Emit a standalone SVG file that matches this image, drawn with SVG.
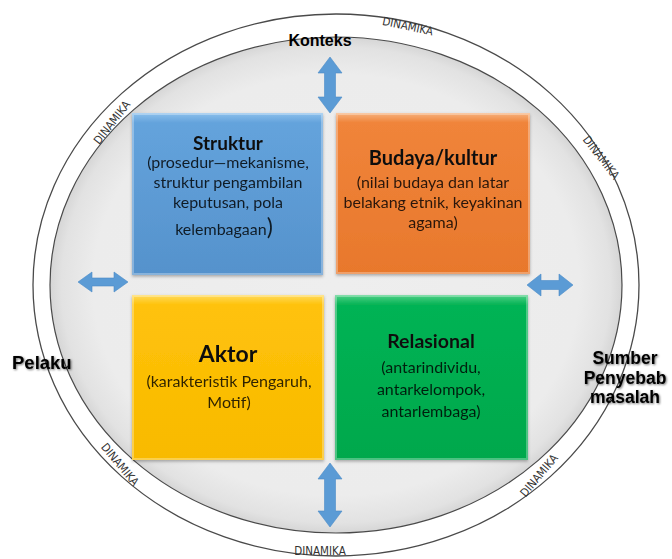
<svg xmlns="http://www.w3.org/2000/svg" width="672" height="559" viewBox="0 0 672 559">
<defs>
<style>
.ring{fill:none;stroke:#4a4a4a;stroke-width:1.3}
.dyn{font-family:"Liberation Sans Narrow","DejaVu Sans Condensed","Liberation Sans",sans-serif;font-size:11.5px;fill:#333}
.lbl{font-family:"Liberation Sans",Arial,sans-serif;font-weight:bold;fill:#000}
.ttl{font-family:Lato,"Open Sans",sans-serif;font-weight:bold;fill:#111;text-anchor:middle}
.sub{font-family:Lato,"Open Sans",sans-serif;font-size:16px;fill:#000;fill-opacity:0.82;text-anchor:middle}
.arr{fill:#5b9bd5;stroke:#4a8bc8;stroke-width:0.6}
.bev{fill:none;stroke:#fff;stroke-opacity:0.3;stroke-width:2}
</style>
<radialGradient id="disc" cx="50%" cy="50%" r="50%">
<stop offset="0" stop-color="#eeeeee"/>
<stop offset="0.85" stop-color="#ececec"/>
<stop offset="0.96" stop-color="#e2e2e2"/>
<stop offset="1" stop-color="#d6d6d6"/>
</radialGradient>
<linearGradient id="gBlue" x1="0" y1="0" x2="0" y2="1">
<stop offset="0" stop-color="#8cc0ec"/><stop offset="0.06" stop-color="#64a3dc"/><stop offset="1" stop-color="#5592cc"/>
</linearGradient>
<linearGradient id="gOrange" x1="0" y1="0" x2="0" y2="1">
<stop offset="0" stop-color="#f6b27e"/><stop offset="0.06" stop-color="#f0843a"/><stop offset="1" stop-color="#e8782c"/>
</linearGradient>
<linearGradient id="gGold" x1="0" y1="0" x2="0" y2="1">
<stop offset="0" stop-color="#ffda5c"/><stop offset="0.06" stop-color="#ffc20a"/><stop offset="1" stop-color="#f8ba00"/>
</linearGradient>
<linearGradient id="gGreen" x1="0" y1="0" x2="0" y2="1">
<stop offset="0" stop-color="#4fd087"/><stop offset="0.06" stop-color="#06b354"/><stop offset="1" stop-color="#00a84c"/>
</linearGradient>
<filter id="sh" x="-10%" y="-10%" width="120%" height="120%">
<feDropShadow dx="0" dy="1.5" stdDeviation="1.5" flood-color="#000" flood-opacity="0.3"/>
</filter>
<filter id="tsh" x="-10%" y="-20%" width="120%" height="140%">
<feDropShadow dx="1" dy="1" stdDeviation="1.2" flood-color="#000" flood-opacity="0.55"/>
</filter>
</defs>
<rect width="672" height="559" fill="#fff"/>
<g id="rings">
<ellipse class="ring" cx="336" cy="285" rx="303" ry="271"/>
<ellipse cx="336" cy="285" rx="286" ry="248" fill="url(#disc)" stroke="#4a4a4a" stroke-width="1.2"/>
<text class="dyn" transform="translate(407,30) rotate(12)" text-anchor="middle">DINAMIKA</text>
<text class="dyn" transform="translate(115,125) rotate(-52)" text-anchor="middle">DINAMIKA</text>
<text class="dyn" transform="translate(598,160) rotate(52)" text-anchor="middle">DINAMIKA</text>
<text class="dyn" transform="translate(117,467) rotate(50)" text-anchor="middle">DINAMIKA</text>
<text class="dyn" transform="translate(542,478) rotate(-50)" text-anchor="middle">DINAMIKA</text>
<text class="dyn" x="320" y="555" text-anchor="middle">DINAMIKA</text>
</g>
<g id="struktur" filter="url(#sh)">
<rect x="132" y="113" width="191" height="162" fill="url(#gBlue)"/>
<rect class="bev" x="133" y="114" width="189" height="160"/>
<text class="ttl" x="228" y="150" font-size="19">Struktur</text>
<text class="sub" x="228" y="168">(prosedur—mekanisme,</text>
<text class="sub" x="228" y="188">struktur pengambilan</text>
<text class="sub" x="228" y="208">keputusan, pola</text>
<text class="sub" x="224" y="235">kelembagaan<tspan font-size="23">)</tspan></text>
</g>
<g id="budaya" filter="url(#sh)">
<rect x="336" y="113" width="194" height="161" fill="url(#gOrange)"/>
<rect class="bev" x="337" y="114" width="192" height="159"/>
<text class="ttl" x="433" y="165" font-size="20">Budaya/kultur</text>
<text class="sub" x="433" y="188">(nilai budaya dan latar</text>
<text class="sub" x="433" y="208">belakang etnik, keyakinan</text>
<text class="sub" x="433" y="228">agama)</text>
</g>
<g id="aktor" filter="url(#sh)">
<rect x="132" y="295" width="192" height="165" fill="url(#gGold)"/>
<rect class="bev" x="133" y="296" width="190" height="163"/>
<text class="ttl" x="228" y="362" font-size="23">Aktor</text>
<text class="sub" x="229" y="387">(karakteristik Pengaruh,</text>
<text class="sub" x="229" y="408">Motif)</text>
</g>
<g id="relasional" filter="url(#sh)">
<rect x="335" y="295" width="193" height="165" fill="url(#gGreen)"/>
<rect class="bev" x="336" y="296" width="191" height="163"/>
<text class="ttl" x="431" y="348" font-size="19.5">Relasional</text>
<text class="sub" x="431" y="373">(antarindividu,</text>
<text class="sub" x="431" y="395">antarkelompok,</text>
<text class="sub" x="431" y="417">antarlembaga)</text>
</g>
<g id="connectors">
<path class="arr" d="M330,57 L342,73 L335.5,73 L335.5,97 L342,97 L330,113 L318,97 L324.5,97 L324.5,73 L318,73 Z"/>
<path class="arr" d="M330,463 L342,479 L335.5,479 L335.5,511 L342,511 L330,527 L318,511 L324.5,511 L324.5,479 L318,479 Z"/>
<path class="arr" d="M78,282 L92,272 L92,278 L114,278 L114,272 L128,282 L114,292 L114,286 L92,286 L92,292 Z"/>
<path class="arr" d="M527,285 L541,274 L541,280.5 L559,280.5 L559,274 L573,285 L559,296 L559,289.5 L541,289.5 L541,296 Z"/>
</g>
<g id="konteks"><text class="lbl" x="320" y="46" font-size="16" text-anchor="middle">Konteks</text></g>
<g id="pelaku"><text class="lbl" x="12" y="369" font-size="18.5" filter="url(#tsh)">Pelaku</text></g>
<g id="sumber" filter="url(#tsh)">
<text class="lbl" x="625" y="364" font-size="17.5" text-anchor="middle">Sumber</text>
<text class="lbl" x="625" y="383.5" font-size="17.5" text-anchor="middle">Penyebab</text>
<text class="lbl" x="625" y="403" font-size="17.5" text-anchor="middle">masalah</text>
</g>
</svg>
